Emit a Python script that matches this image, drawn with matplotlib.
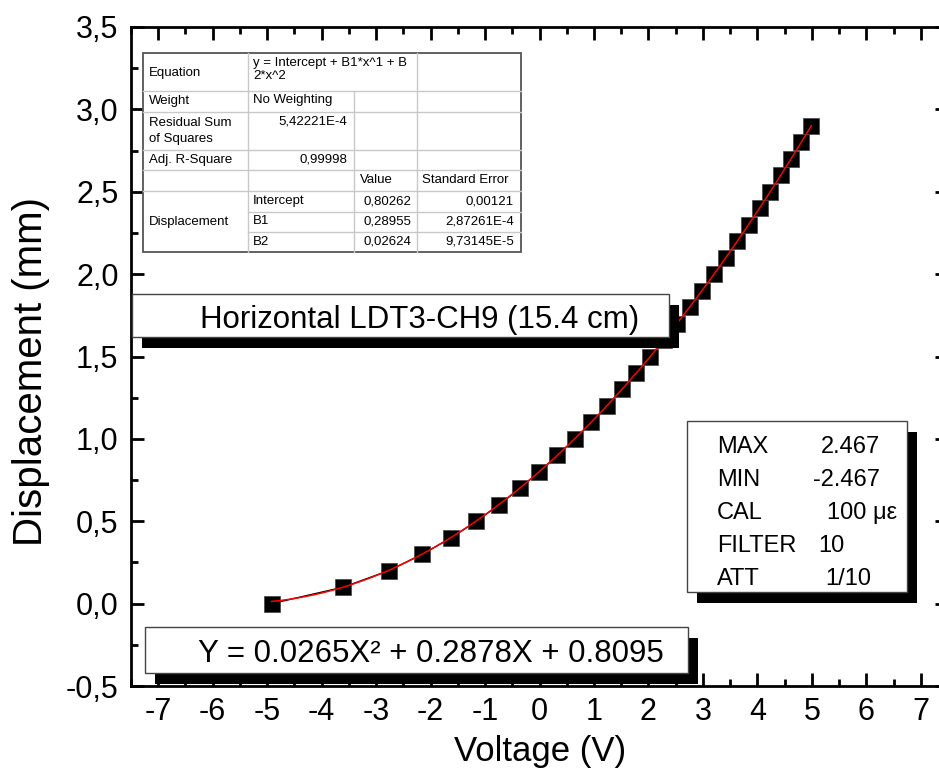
import numpy as np
import matplotlib.pyplot as plt
from matplotlib.patches import Rectangle
from matplotlib.ticker import MultipleLocator, FuncFormatter

plt.rcParams['font.family'] = ['Liberation Sans', 'DejaVu Sans']

# LDT3-CH9 calibration: voltage readings at 0.1 mm displacement steps
voltage = [-4.92, -3.60, -2.77, -2.15, -1.62, -1.16, -0.74, -0.36, -0.01, 0.33,
           0.65, 0.95, 1.24, 1.51, 1.78, 2.03, 2.28, 2.52, 2.76, 2.98,
           3.21, 3.42, 3.63, 3.84, 4.04, 4.24, 4.43, 4.62, 4.81, 4.99]
displacement = [0.0, 0.1, 0.2, 0.3, 0.4, 0.5, 0.6, 0.7, 0.8, 0.9,
                1.0, 1.1, 1.2, 1.3, 1.4, 1.5, 1.6, 1.7, 1.8, 1.9,
                2.0, 2.1, 2.2, 2.3, 2.4, 2.5, 2.6, 2.7, 2.8, 2.9]

# polynomial fit results (Intercept, B1, B2)
intercept, b1, b2 = 0.80262, 0.28955, 0.02624

W, H = 939, 776
fig = plt.figure(figsize=(W / 100, H / 100), dpi=100)
ax = fig.add_axes([131 / W, 1 - 686 / H, 817 / W, 659 / H])

ax.plot(voltage, displacement, color='black', lw=1.0, marker='s', ms=11,
        mec='#444444', mew=0.5, zorder=3)
xf = np.linspace(voltage[0], voltage[-1], 300)
ax.plot(xf, intercept + b1 * xf + b2 * xf ** 2, color='red', lw=1.1, zorder=4)

ax.set_xlim(-7.5, 7.5)
ax.set_ylim(-0.5, 3.5)
ax.xaxis.set_major_locator(MultipleLocator(1))
ax.xaxis.set_minor_locator(MultipleLocator(0.5))
ax.yaxis.set_major_locator(MultipleLocator(0.5))
ax.yaxis.set_minor_locator(MultipleLocator(0.25))
ax.xaxis.set_major_formatter(FuncFormatter(lambda v, p: f"{v:.0f}"))
ax.yaxis.set_major_formatter(FuncFormatter(lambda v, p: f"{v:.1f}".replace('.', ',')))
ax.tick_params(which='both', direction='in', top=True, right=True, width=2,
               labelsize=22)
ax.tick_params(which='major', length=9.5)
ax.tick_params(which='minor', length=5)
ax.tick_params(axis='y', pad=9)
ax.tick_params(axis='x', pad=8)
for s in ax.spines.values():
    s.set_linewidth(2)

# overlay in pixel units for the labels, boxes and the fit table
ov = fig.add_axes([0, 0, 1, 1], zorder=5)
ov.set_xlim(0, W)
ov.set_ylim(H, 0)
ov.axis('off')
ov.patch.set_alpha(0)

ov.text(31, 372, 'Displacement (mm)', rotation=90, ha='center', va='center', fontsize=29)
ov.text(540, 752, 'Voltage (V)', ha='center', va='center', fontsize=25)


def shadow_box(x0, y0, x1, y1, dx=10, dy=11):
    ov.add_patch(Rectangle((x0 + dx, y0 + dy), x1 - x0, y1 - y0, fc='black', ec='none'))
    ov.add_patch(Rectangle((x0, y0), x1 - x0, y1 - y0, fc='white', ec='#444444', lw=1))


shadow_box(132, 294, 669, 337)
ov.text(420, 328, 'Horizontal LDT3-CH9 (15.4 cm)', ha='center', va='baseline', fontsize=22.5)

shadow_box(145, 627, 688, 673)
ov.text(431, 662, 'Y = 0.0265X² + 0.2878X + 0.8095', ha='center', va='baseline', fontsize=22.5)

shadow_box(687, 421, 907, 592)
info = [('MAX', '2.467'), ('MIN', '-2.467'), ('CAL', '100 με'), ('FILTER', '10'), ('ATT', '1/10')]
info_x = [880, 880, 827, 818, 825]
info_ha = ['right', 'right', 'left', 'left', 'left']
for i, (k, v) in enumerate(info):
    yb = 453 + i * 33
    ov.text(717, yb, k, ha='left', va='baseline', fontsize=17)
    ov.text(info_x[i], yb, v, ha=info_ha[i], va='baseline', fontsize=17)

# fit summary table
tx0, tx1, ty0, ty1 = 143, 521, 53, 252
c1, c2, c3 = 248, 354, 417
ov.add_patch(Rectangle((tx0, ty0), tx1 - tx0, ty1 - ty0, fc='white', ec='none'))
grid = dict(color='#c8c8c8', lw=1)
for y in [91, 112, 150, 170, 191]:
    ov.plot([tx0, tx1], [y, y], **grid)
for y in [212, 232]:
    ov.plot([c1, tx1], [y, y], **grid)
ov.plot([c1, c1], [ty0, ty1], **grid)
ov.plot([c2, c2], [91, ty1], **grid)
ov.plot([c3, c3], [ty0, ty1], **grid)
ov.add_patch(Rectangle((tx0, ty0), tx1 - tx0, ty1 - ty0, fc='none', ec='#555555', lw=1.3))

fs = 9.5
ov.text(149, 73, 'Equation', va='center', fontsize=fs)
ov.text(253, 63, 'y = Intercept + B1*x^1 + B', va='center', fontsize=fs)
ov.text(253, 76, '2*x^2', va='center', fontsize=fs)
ov.text(149, 101, 'Weight', va='center', fontsize=fs)
ov.text(253, 100, 'No Weighting', va='center', fontsize=fs)
ov.text(149, 123, 'Residual Sum', va='center', fontsize=fs)
ov.text(149, 139, 'of Squares', va='center', fontsize=fs)
ov.text(347, 121, '5,42221E-4', ha='right', va='center', fontsize=fs)
ov.text(149, 160, 'Adj. R-Square', va='center', fontsize=fs)
ov.text(347, 159, '0,99998', ha='right', va='center', fontsize=fs)
ov.text(360, 180, 'Value', va='center', fontsize=fs)
ov.text(422, 180, 'Standard Error', va='center', fontsize=fs)
ov.text(149, 222, 'Displacement', va='center', fontsize=fs)
rows = [('Intercept', '0,80262', '0,00121'), ('B1', '0,28955', '2,87261E-4'),
        ('B2', '0,02624', '9,73145E-5')]
for i, (name, val, err) in enumerate(rows):
    yc = 201 + i * 20.5
    ov.text(253, yc, name, va='center', fontsize=fs)
    ov.text(411, yc, val, ha='right', va='center', fontsize=fs)
    ov.text(514, yc, err, ha='right', va='center', fontsize=fs)

fig.savefig('out.png', dpi=100)
